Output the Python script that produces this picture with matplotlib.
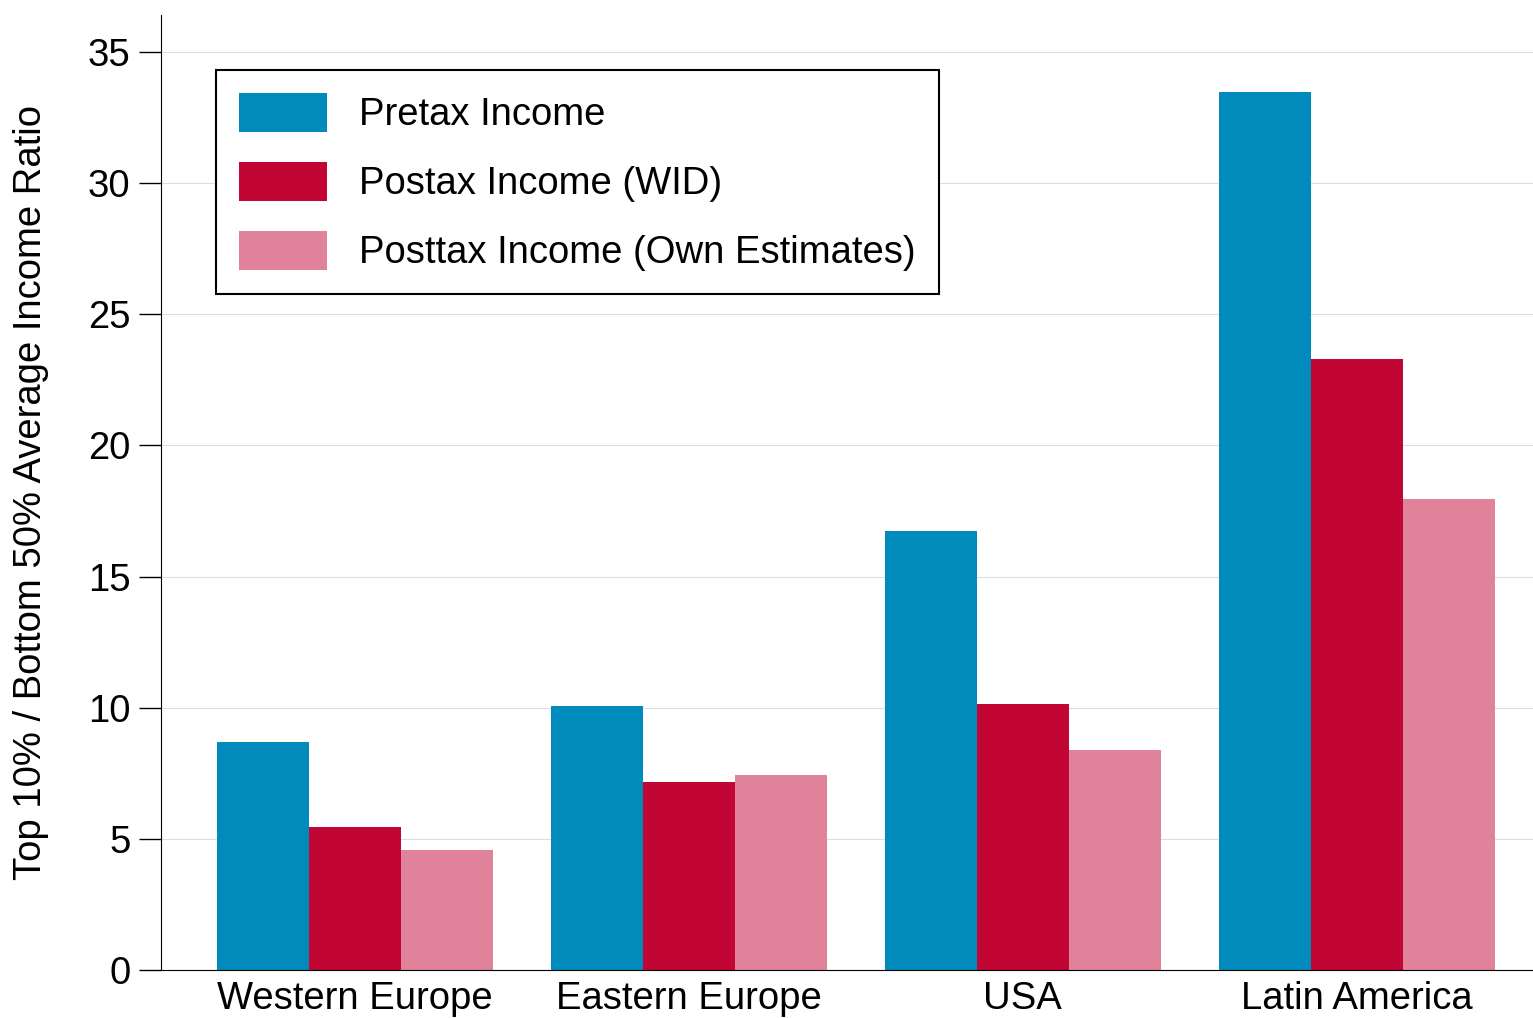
import numpy as np
import matplotlib.pyplot as plt

plt.rcParams['font.family'] = ['Liberation Sans', 'DejaVu Sans']

regions = ['Western Europe', 'Eastern Europe', 'USA', 'Latin America']
pretax = [8.7, 10.06, 16.74, 33.47]
postax_wid = [5.45, 7.17, 10.14, 23.29]
posttax_own = [4.57, 7.43, 8.39, 17.96]
series = ['Pretax Income', 'Postax Income (WID)', 'Posttax Income (Own Estimates)']
colors = ['#008BBC', '#C10534', '#E08299']

fig = plt.figure(figsize=(15.33, 10.18), dpi=100)
ax = fig.add_axes([0.105, 0.047, 0.895, 0.938])

x = np.arange(len(regions))
w = 0.275
for i, (vals, lab, c) in enumerate(zip([pretax, postax_wid, posttax_own], series, colors)):
    ax.bar(x + (i - 1) * w, vals, width=w, color=c, label=lab, zorder=2)

ax.set_xlim(-0.58, 3.527)
ax.set_ylim(0, 36.4)
ax.set_yticks(range(0, 36, 5))
ax.set_xticks(x)
ax.set_xticklabels(regions, fontsize=27.5)
ax.tick_params(axis='x', length=0, pad=8)
ax.tick_params(axis='y', labelsize=27.5, length=16, width=1, pad=6)
ax.yaxis.grid(True, color='#dddddd', linewidth=0.8, zorder=0)
for s in ['top', 'right']:
    ax.spines[s].set_visible(False)
ax.set_ylabel('Top 10% / Bottom 50% Average Income Ratio', fontsize=27.5, labelpad=28)

leg = ax.legend(loc='upper left', bbox_to_anchor=(0.04, 0.943), fontsize=27.5,
                frameon=True, fancybox=False, edgecolor='black', framealpha=1,
                handlelength=2.3, handleheight=1.2, labelspacing=0.75,
                borderpad=0.6, handletextpad=0.85, borderaxespad=0)
leg.get_frame().set_linewidth(1.5)
leg._legend_box.sep = 20

fig.savefig('out.png', dpi=100)
